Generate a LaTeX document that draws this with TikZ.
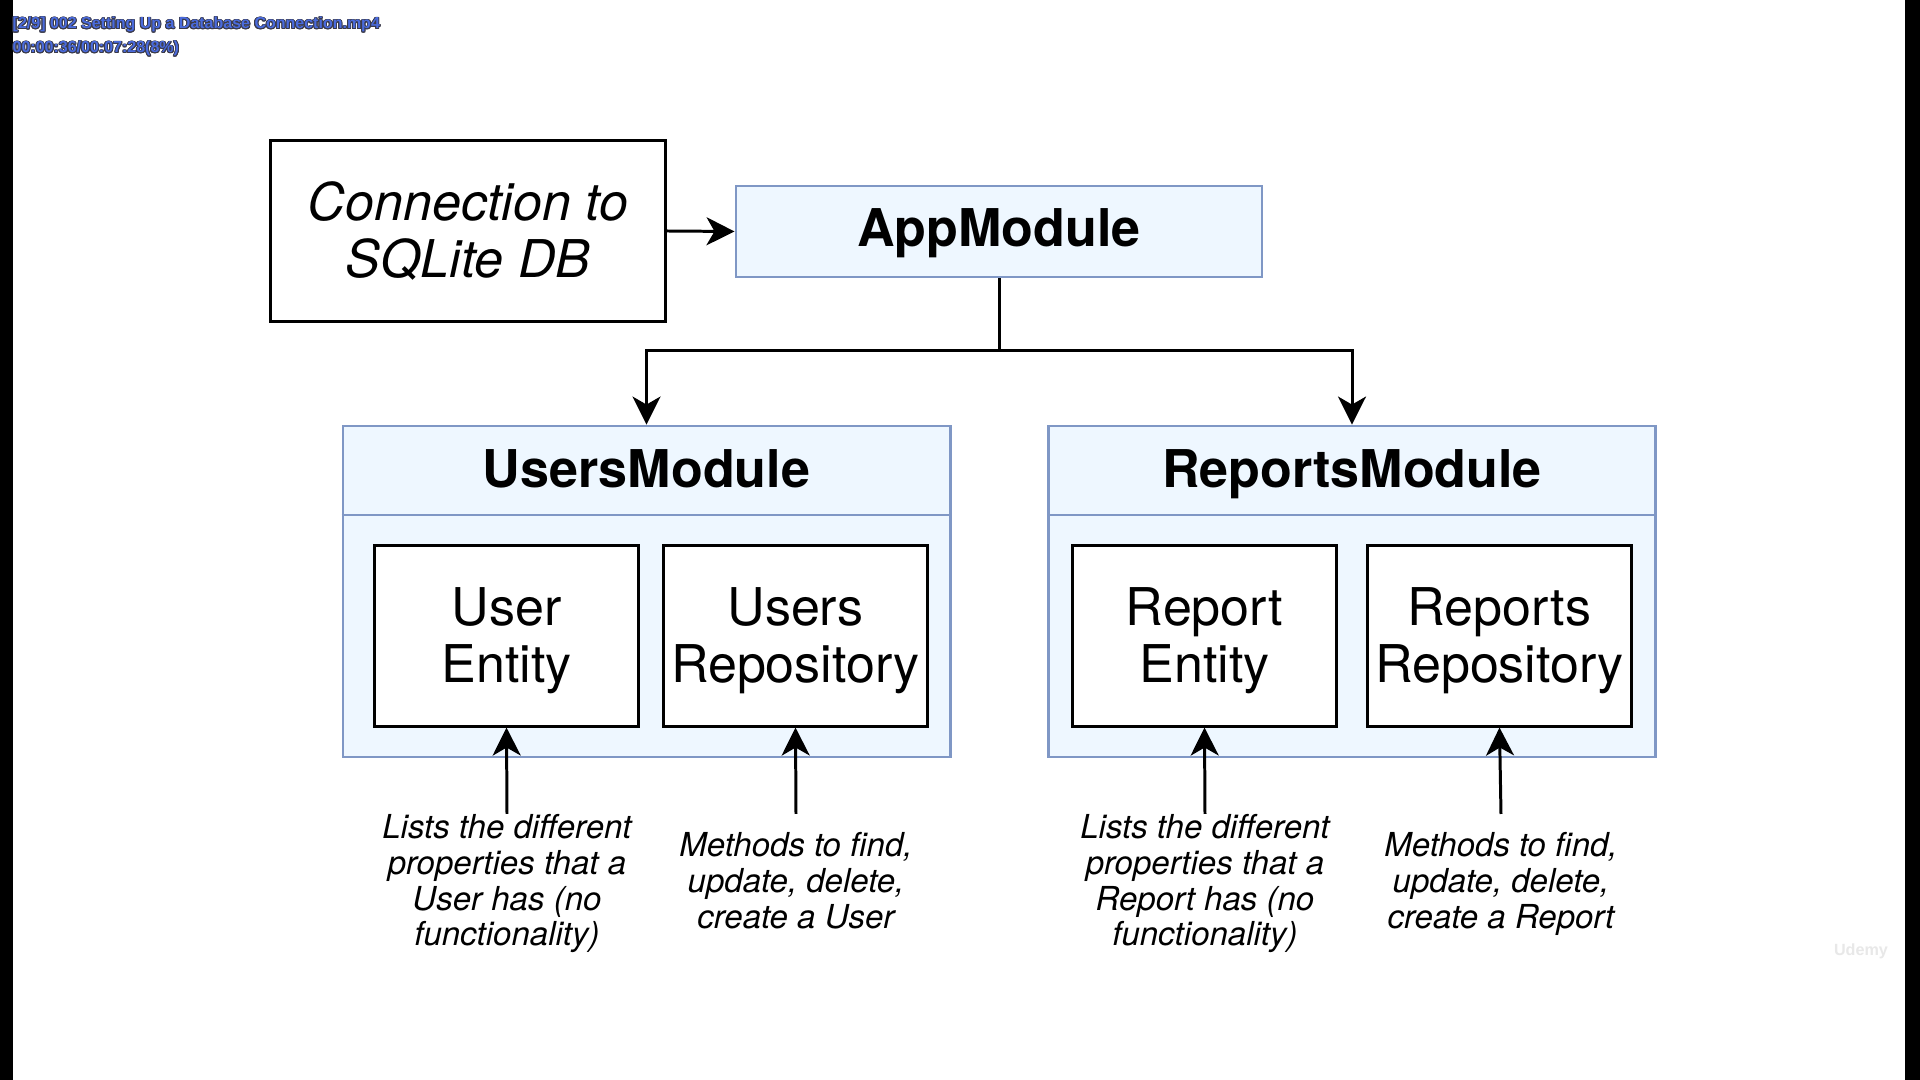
\documentclass[tikz,border=0pt]{standalone}
\usepackage{fontspec}
\setmainfont{TeX Gyre Heros}
\newfontfamily\overlayfont{Liberation Sans}
\usepackage[copies]{contour}
\contourlength{0.25pt}
\usetikzlibrary{arrows.meta}
\definecolor{modfill}{HTML}{EEF7FF}
\definecolor{modline}{HTML}{7F97C5}
\definecolor{ovblue}{HTML}{4A6BDD}
\definecolor{ovdark}{HTML}{3A3A4A}
\begin{document}
\begin{tikzpicture}[x=0.01cm,y=-0.01cm,
  big/.style={font=\fontsize{14.8}{16.2}\selectfont},
  blackbox/.style={draw=black,line width=0.85pt,fill=white,inner sep=0pt,minimum width=2.63cm,minimum height=1.80cm},
  boxtext/.style={align=center,inner sep=0pt,big},
  modbox/.style={draw=modline,line width=0.75pt,fill=modfill,inner sep=0pt},
  title/.style={inner sep=0pt,anchor=base,font=\fontsize{14.8}{16.2}\selectfont\bfseries},
  note/.style={align=center,inner sep=0pt,anchor=north,font=\fontsize{9.39}{10.15}\selectfont\itshape},
  conn/.style={line width=0.85pt},
  arr/.style={line width=0.85pt,-{Stealth[length=0.28cm,width=0.28cm,inset=0.08cm]}},
  overlay/.style={inner sep=0pt,anchor=base west,text=ovblue,font=\overlayfont\fontsize{4.55}{5}\selectfont\bfseries}
]
\useasboundingbox (0,0) rectangle (1920,1080);
\fill[white] (0,0) rectangle (1920,1080);
\fill[black] (0,0) rectangle (13,1080);
\fill[black] (1905,0) rectangle (1920,1080);

% overlay text
\node[overlay] (ov1) at (12,29) {\contour{ovdark}{[2/9] 002 Setting Up a Database Connection.mp4}};
\node[overlay] (ov2) at (12,53) {\contour{ovdark}{00:00:36/00:07:28(8\%)}};
\node[inner sep=0pt,text=gray!18,font=\overlayfont\fontsize{4.6}{5}\selectfont\bfseries] (udemy) at (1861,951) {Udemy};

% top row
\node[draw=black,line width=0.85pt,fill=white,inner sep=0pt,align=center,minimum width=3.94cm,minimum height=1.80cm,font=\fontsize{14.8}{16.2}\selectfont\itshape] (db) at (468,231) {Connection to\\SQLite DB};
\node[modbox,minimum width=5.26cm,minimum height=0.91cm] (app) at (999,231.5) {};
\node[title] (appT) at (999,247) {AppModule};
\draw[arr] (db.east) -- (app.west);

% modules
\node[modbox,minimum width=6.07cm,minimum height=3.31cm] (users) at (646.5,591.5) {};
\node[modbox,minimum width=6.07cm,minimum height=3.31cm] (reports) at (1352,591.5) {};
\draw[modline,line width=0.75pt] (users.west |- 0,515) -- (users.east |- 0,515);
\draw[modline,line width=0.75pt] (reports.west |- 0,515) -- (reports.east |- 0,515);
\node[title] (usersT) at (646.5,488) {UsersModule};
\node[title] (reportsT) at (1352,488) {ReportsModule};

\coordinate (hub) at (999,351);
\draw[conn] (app.south) -- (hub);
\draw[arr] (hub) -| (users.north);
\draw[arr] (hub) -| (reports.north);

% inner boxes
\node[blackbox] (ue) at (506.5,636) {};
\node[blackbox] (ur) at (795.5,636) {};
\node[blackbox] (re) at (1204.5,636) {};
\node[blackbox] (rr) at (1499.5,636) {};
\node[boxtext] (ueT) at (506.5,641) {User\\Entity};
\node[boxtext] (urT) at (795.5,641) {Users\\Repository};
\node[boxtext] (reT) at (1204.5,641) {Report\\Entity};
\node[boxtext] (rrT) at (1499.5,641) {Reports\\Repository};

% notes
\node[note] (n1) at (507,814) {Lists the different\\properties that a\\User has (no\\functionality)};
\node[note] (n2) at (796,832) {Methods to find,\\update, delete,\\create a User};
\node[note] (n3) at (1205,814) {Lists the different\\properties that a\\Report has (no\\functionality)};
\node[note] (n4) at (1501,832) {Methods to find,\\update, delete,\\create a Report};

\coordinate (s1) at (507,814);
\coordinate (s2) at (796,814);
\coordinate (s3) at (1205,814);
\coordinate (s4) at (1501,814);
\draw[arr] (s1) -- (ue.south);
\draw[arr] (s2) -- (ur.south);
\draw[arr] (s3) -- (re.south);
\draw[arr] (s4) -- (rr.south);
\end{tikzpicture}
\end{document}
